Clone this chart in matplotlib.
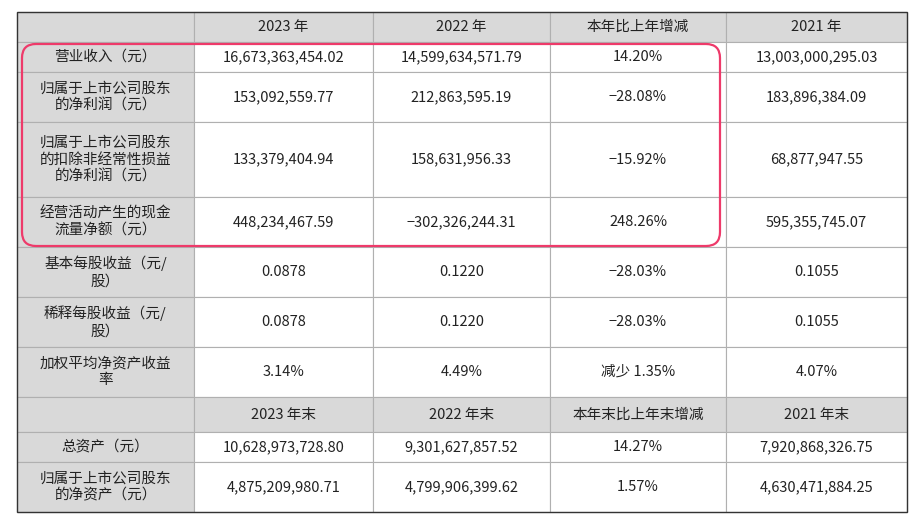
import matplotlib.pyplot as plt
from matplotlib.patches import Rectangle, FancyBboxPatch

plt.rcParams['font.family'] = ['Noto Sans CJK SC', 'DejaVu Sans']

header1 = ["", "2023 年", "2022 年", "本年比上年增减", "2021 年"]
header2 = ["", "2023 年末", "2022 年末", "本年末比上年末增减", "2021 年末"]
labels = ["营业收入（元）", "归属于上市公司股东\n的净利润（元）",
          "归属于上市公司股东\n的扣除非经常性损益\n的净利润（元）",
          "经营活动产生的现金\n流量净额（元）", "基本每股收益（元/\n股）",
          "稀释每股收益（元/\n股）", "加权平均净资产收益\n率"]
y2023 = ["16,673,363,454.02", "153,092,559.77", "133,379,404.94", "448,234,467.59",
         "0.0878", "0.0878", "3.14%"]
y2022 = ["14,599,634,571.79", "212,863,595.19", "158,631,956.33", "-302,326,244.31",
         "0.1220", "0.1220", "4.49%"]
change = ["14.20%", "-28.08%", "-15.92%", "248.26%", "-28.03%", "-28.03%", "减少 1.35%"]
y2021 = ["13,003,000,295.03", "183,896,384.09", "68,877,947.55", "595,355,745.07",
         "0.1055", "0.1055", "4.07%"]
labels2 = ["总资产（元）", "归属于上市公司股东\n的净资产（元）"]
e2023 = ["10,628,973,728.80", "4,875,209,980.71"]
e2022 = ["9,301,627,857.52", "4,799,906,399.62"]
echange = ["14.27%", "1.57%"]
e2021 = ["7,920,868,326.75", "4,630,471,884.25"]

cols = [17, 194, 373, 550, 726, 907]
# row boundaries (pixels)
rows = [12, 42, 72, 122, 197, 247, 297, 347, 397, 432, 462, 512]

fig = plt.figure(figsize=(9.24, 5.30), dpi=100)
ax = fig.add_axes([0, 0, 1, 1])
ax.set_xlim(0, 924)
ax.set_ylim(530, 0)
ax.axis("off")

grey = "#d9d9d9"
table_rows = ([header1]
              + [[l, a, b, c, d] for l, a, b, c, d in zip(labels, y2023, y2022, change, y2021)]
              + [header2]
              + [[l, a, b, c, d] for l, a, b, c, d in zip(labels2, e2023, e2022, echange, e2021)])
header_idx = {0, len(labels) + 1}

for r, row in enumerate(table_rows):
    top, bot = rows[r], rows[r + 1]
    for c, txt in enumerate(row):
        left, right = cols[c], cols[c + 1]
        fc = grey if (r in header_idx or c == 0) else "white"
        ax.add_patch(Rectangle((left, top), right - left, bot - top,
                               facecolor=fc, edgecolor="#b0b0b0", lw=0.8))
        ax.text((left + right) / 2, (top + bot) / 2, txt.replace("-", "−"),
                ha="center", va="center", fontsize=10.5, color="#222222",
                linespacing=1.25)

ax.add_patch(Rectangle((cols[0], rows[0]), cols[-1] - cols[0], rows[-1] - rows[0],
                       facecolor="none", edgecolor="#333333", lw=1.0))

ax.add_patch(FancyBboxPatch((22, 44), 698, 202,
                            boxstyle="round,pad=0,rounding_size=14",
                            facecolor="none", edgecolor="#ee3a6a", lw=1.6))

fig.savefig("out.png", dpi=100)
